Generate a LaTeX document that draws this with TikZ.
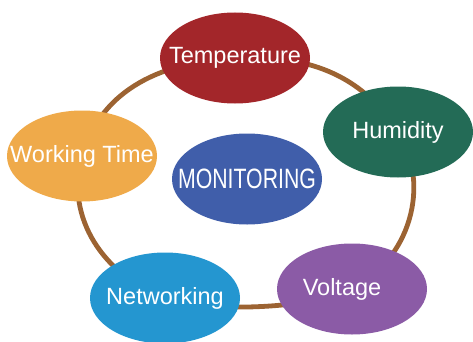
\documentclass[tikz,border=0pt]{standalone}
\usepackage{fontspec}
\setmainfont{Liberation Sans}
\usepackage{graphicx}
\usepackage{xcolor}
\usepackage{tikz}
\usetikzlibrary{shapes.geometric,backgrounds}

\definecolor{tempred}{HTML}{A3262A}
\definecolor{humgreen}{HTML}{236B56}
\definecolor{voltpurple}{HTML}{8B5BA6}
\definecolor{netblue}{HTML}{2496D0}
\definecolor{workorange}{HTML}{EFAA4A}
\definecolor{monblue}{HTML}{405EAA}
\definecolor{ringbrown}{HTML}{9C6332}

% text that does not widen its ellipse
\newcommand{\ctext}[1]{\makebox[0pt]{#1}}

\begin{document}
\begin{tikzpicture}[
  x=1pt, y=1pt,
  font=\fontsize{23.5}{28}\selectfont,
  topic/.style={ellipse, minimum width=150pt, minimum height=91pt,
                inner sep=0pt, text=white},
  hub/.style={topic, fill=monblue},
  link/.style={line width=4.8pt, draw=ringbrown}
]
\useasboundingbox (0,0) rectangle (473,341);

% ---------- centre ----------
\node[hub] (mon) at (247,162)
  {\ctext{\scalebox{0.76}[1]{\fontsize{28}{32}\selectfont MONITORING}}};

% ---------- monitored quantities ----------
\node[topic, fill=tempred]    (temp) at (235,283) {\ctext{Temperature}};
\node[topic, fill=humgreen]   (hum)  at (398,209) {\ctext{Humidity}};
\node[topic, fill=voltpurple] (volt) at (352,52)  {\ctext{Voltage\kern20pt}};
\node[topic, fill=netblue]    (net)  at (165,43)  {\ctext{Networking}};
\node[topic, fill=workorange] (work) at (82,185)  {\ctext{Working Time}};

% ---------- ring behind the quantities ----------
\begin{scope}[on background layer]
  \draw[link] (temp.center) to[out=3,in=122]    (hum.center);
  \draw[link] (hum.center)  to[out=-58,in=27]   (volt.center);
  \draw[link] (volt.center) to[out=-153,in=-20,looseness=0.6] (net.center);
  \draw[link] (net.center)  to[out=160,in=-106] (work.center);
  \draw[link] (work.center) to[out=74,in=183]   (temp.center);
\end{scope}

\end{tikzpicture}
\end{document}
